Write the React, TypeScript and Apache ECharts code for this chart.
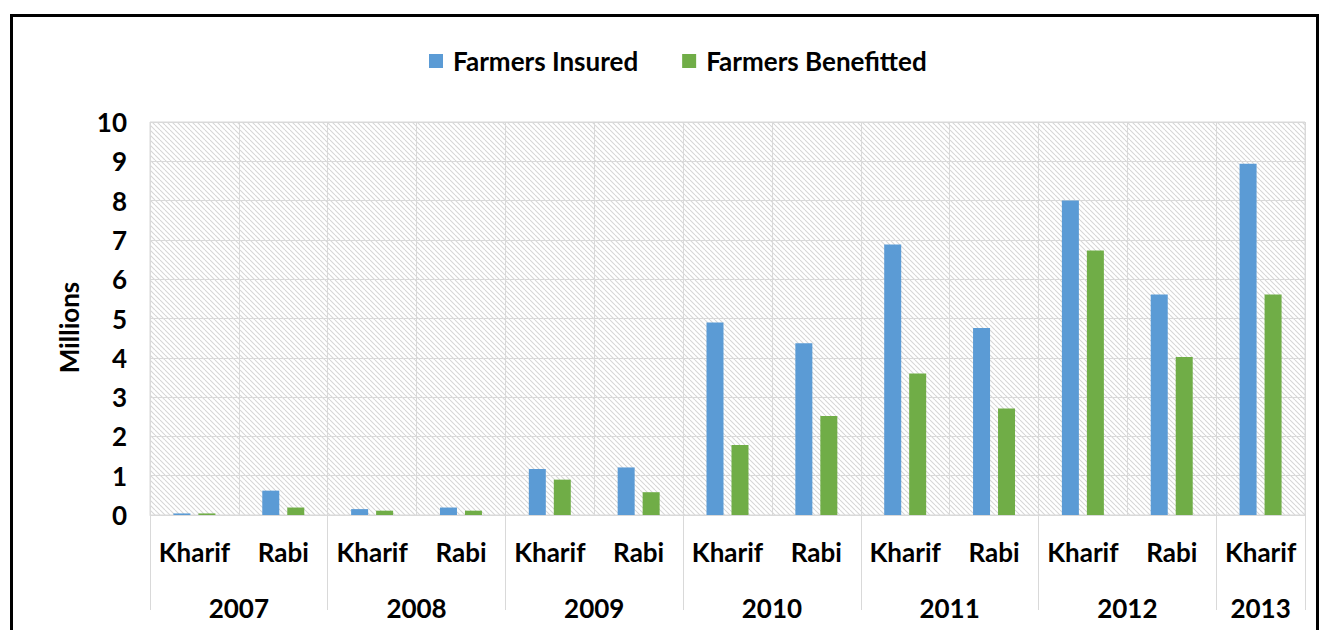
import React, { useEffect, useRef } from "react";
import * as echarts from "echarts";

const categories = ["Kharif", "Rabi", "Kharif", "Rabi", "Kharif", "Rabi", "Kharif", "Rabi", "Kharif", "Rabi", "Kharif", "Rabi", "Kharif"];
const years = ["2007", "2008", "2009", "2010", "2011", "2012", "2013"];
const yearCenters = [1, 3, 5, 7, 9, 11, 12.5];
const yearBounds = [0, 2, 4, 6, 8, 10, 12, 13];
const farmersInsured = [0.04, 0.62, 0.15, 0.19, 1.17, 1.21, 4.9, 4.37, 6.88, 4.76, 8.0, 5.61, 8.94];
const farmersBenefitted = [0.04, 0.19, 0.11, 0.11, 0.9, 0.58, 1.78, 2.52, 3.6, 2.71, 6.73, 4.02, 5.61];
const yTicks = [0, 10, 1];

const FONT = "Lato, 'Open Sans', sans-serif";
const FS = 26;

function makeHatch(): string {
  const size = 5;
  const c = document.createElement("canvas");
  c.width = size;
  c.height = size;
  const ctx = c.getContext("2d")!;
  ctx.fillStyle = "#ffffff";
  ctx.fillRect(0, 0, size, size);
  ctx.strokeStyle = "#d6d6d6";
  ctx.lineWidth = 1.1;
  for (const off of [-size, 0, size]) {
    ctx.beginPath();
    ctx.moveTo(off, 0);
    ctx.lineTo(off + size, size);
    ctx.stroke();
  }
  return c.toDataURL();
}

export default function App() {
  const ref = useRef<HTMLDivElement>(null);
  useEffect(() => {
    document.body.style.margin = "0";
    const chart = echarts.init(ref.current!, null, { renderer: "svg" });
    const hatch = makeHatch();
    chart.setOption({
      animation: false,
      backgroundColor: "#ffffff",
      graphic: [
        {
          type: "rect",
          shape: { x: 11.5, y: 15.5, width: 1306, height: 700 },
          style: { fill: "none", stroke: "#000000", lineWidth: 3 },
          silent: true,
        },
      ],
      legend: {
        left: 424,
        top: 43,
        itemWidth: 14,
        itemHeight: 14,
        itemGap: 44,
        icon: "rect",
        textStyle: { fontFamily: FONT, fontSize: FS, fontWeight: "bold", color: "#000", padding: [0, 0, 0, 5] },
        data: ["Farmers Insured", "Farmers Benefitted"],
      },
      grid: {
        left: 150,
        right: 22,
        top: 122,
        bottom: 115,
        show: true,
        borderColor: "#d9d9d9",
        borderWidth: 1,
        backgroundColor: { image: hatch, repeat: "repeat", imageWidth: 5, imageHeight: 5 },
        containLabel: false,
      },
      xAxis: [
        {
          type: "category",
          data: categories,
          position: "bottom",
          axisLine: { show: true, lineStyle: { color: "#d9d9d9" } },
          axisTick: { show: false },
          splitLine: { show: true, lineStyle: { color: "#d9d9d9", width: 1 } },
          axisLabel: {
            interval: 0,
            margin: 24,
            fontFamily: FONT,
            fontSize: FS,
            fontWeight: "bold",
            color: "#000",
          },
        },
        {
          type: "value",
          min: 0,
          max: 13,
          position: "bottom",
          axisLine: { show: false },
          splitLine: { show: false },
          axisTick: {
            show: true,
            customValues: yearBounds,
            length: 95,
            lineStyle: { color: "#d9d9d9", width: 1 },
          },
          axisLabel: {
            customValues: yearCenters,
            margin: 80,
            fontFamily: FONT,
            fontSize: FS,
            fontWeight: "bold",
            color: "#000",
            formatter: (v: number) => {
              const i = yearCenters.indexOf(v);
              return i >= 0 ? years[i] : "";
            },
          },
        },
      ],
      yAxis: {
        type: "value",
        min: yTicks[0],
        max: yTicks[1],
        interval: yTicks[2],
        name: "Millions",
        nameLocation: "middle",
        nameGap: 68,
        nameRotate: 90,
        nameTextStyle: { fontFamily: FONT, fontSize: FS, fontWeight: "bold", color: "#000", padding: [0, 18, 0, 0] },
        axisLine: { show: false },
        axisTick: { show: false },
        splitLine: { show: true, lineStyle: { color: "#d9d9d9", width: 1 } },
        axisLabel: {
          margin: 23,
          fontFamily: FONT,
          fontSize: FS,
          fontWeight: "bold",
          color: "#000",
        },
      },
      series: [
        {
          name: "Farmers Insured",
          type: "bar",
          xAxisIndex: 0,
          data: farmersInsured,
          barWidth: 17,
          barGap: "47%",
          itemStyle: { color: "#5b9bd5" },
        },
        {
          name: "Farmers Benefitted",
          type: "bar",
          xAxisIndex: 0,
          data: farmersBenefitted,
          barWidth: 17,
          barGap: "47%",
          itemStyle: { color: "#70ad47" },
        },
      ],
    });
    return () => chart.dispose();
  }, []);
  return <div ref={ref} style={{ width: 1327, height: 630 }} />;
}
